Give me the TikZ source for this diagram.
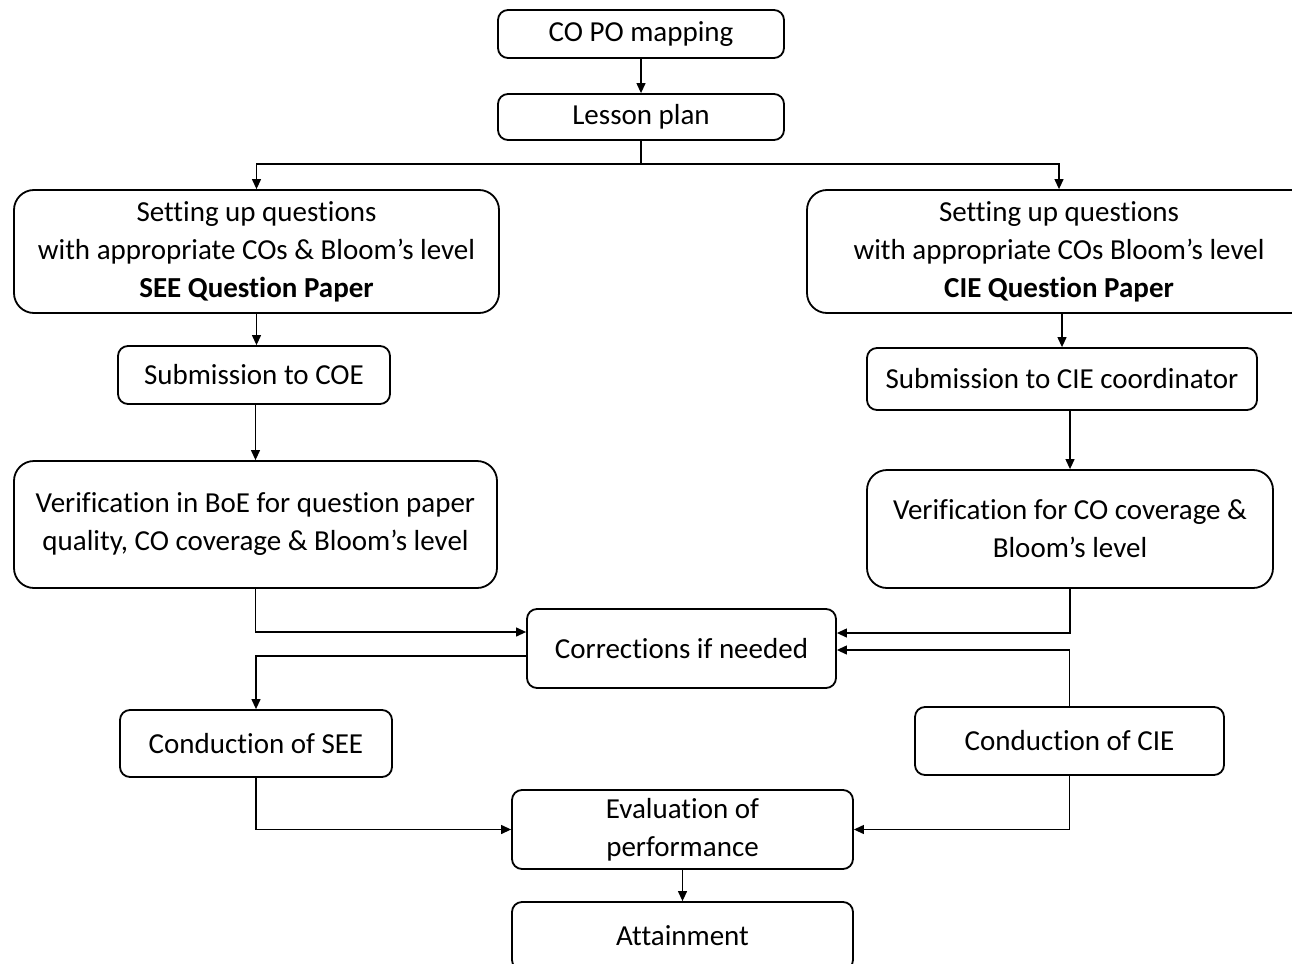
\documentclass[tikz,border=0pt]{standalone}
\usepackage{fontspec}
\setmainfont{Carlito}[Ligatures={TeX,NoCommon}]
\usetikzlibrary{arrows.meta}
\tikzset{
  flowbox/.style={draw,line width=1.8pt,rounded corners=10pt,inner sep=0pt,align=center,
    font=\fontsize{29}{38}\selectfont},
  bigbox/.style={flowbox,rounded corners=20pt},
  flowline/.style={line width=1.2pt},
  flowarrow/.style={flowline,-{Triangle[length=10pt,width=9pt]}},
}

\begin{document}
\begin{tikzpicture}[x=1pt,y=-1pt]
    \useasboundingbox (0,0) rectangle (1292,963);
    % top of the flow
    \node[flowbox,minimum width=286pt,minimum height=48pt] (copo) at (641,34) {CO PO mapping};
    \node[flowbox,minimum width=286pt,minimum height=46pt] (lesson) at (641,117) {Lesson plan};
    \coordinate (split) at (641,164);
    % SEE branch
    \node[bigbox,minimum width=485pt,minimum height=123pt] (seeq) at (256.5,251.5)
      {Setting up questions\\with appropriate COs \& Bloom's level\\\textbf{SEE Question Paper}};
    \node[flowbox,minimum width=272pt,minimum height=58pt] (subcoe) at (254,375) {Submission to COE};
    \node[bigbox,minimum width=483pt,minimum height=127pt] (verboe) at (255.5,524.5)
      {Verification in BoE for question paper\\quality, CO coverage \& Bloom's level};
    \node[flowbox,minimum width=272pt,minimum height=67pt] (condsee) at (256,743.5) {Conduction of SEE};
    % CIE branch
    \node[bigbox,minimum width=504pt,minimum height=123pt] (cieq) at (1059,251.5)
      {Setting up questions\\with appropriate COs Bloom's level\\\textbf{CIE Question Paper}};
    \node[flowbox,minimum width=390pt,minimum height=62pt] (subcie) at (1062,379) {Submission to CIE coordinator};
    \node[bigbox,minimum width=406pt,minimum height=118pt] (vercie) at (1070,529)
      {Verification for CO coverage \&\\Bloom's level};
    \node[flowbox,minimum width=309pt,minimum height=68pt] (condcie) at (1069.5,741) {Conduction of CIE};
    % middle column
    \node[flowbox,minimum width=309pt,minimum height=79pt] (corr) at (681.5,648.5) {Corrections if needed};
    \node[flowbox,minimum width=341pt,minimum height=79pt] (eval) at (682.5,829.5) {Evaluation of\\performance};
    \node[flowbox,minimum width=341pt,minimum height=68pt] (attain) at (682.5,936) {Attainment};

    \draw[flowarrow] (copo) -- (lesson);
    \draw[flowline] (lesson) -- (split);
    \draw[flowarrow] (split) -| (seeq.north);
    \draw[flowarrow] (split) -| (cieq.north);
    \draw[flowarrow] (seeq.south) -- (seeq.south |- subcoe.north);
    \draw[flowarrow] (subcie.north |- cieq.south) -- (subcie.north);
    \draw[flowarrow] (verboe.north |- subcoe.south) -- (verboe.north);
    \draw[flowarrow] (vercie.north |- subcie.south) -- (vercie.north);
    \draw[flowarrow] (verboe.south) |- ([yshift=16.5pt]corr.west);
    \draw[flowarrow] (vercie.south) |- ([yshift=15.5pt]corr.east);
    \draw[flowarrow] ([yshift=-7.5pt]corr.west) -| (condsee.north);
    \draw[flowarrow] (condcie.north) |- ([yshift=-1.5pt]corr.east);
    \draw[flowarrow] (condsee.south) |- (eval.west);
    \draw[flowarrow] (condcie.south) |- (eval.east);
    \draw[flowarrow] (eval) -- (attain);
\end{tikzpicture}
\end{document}
